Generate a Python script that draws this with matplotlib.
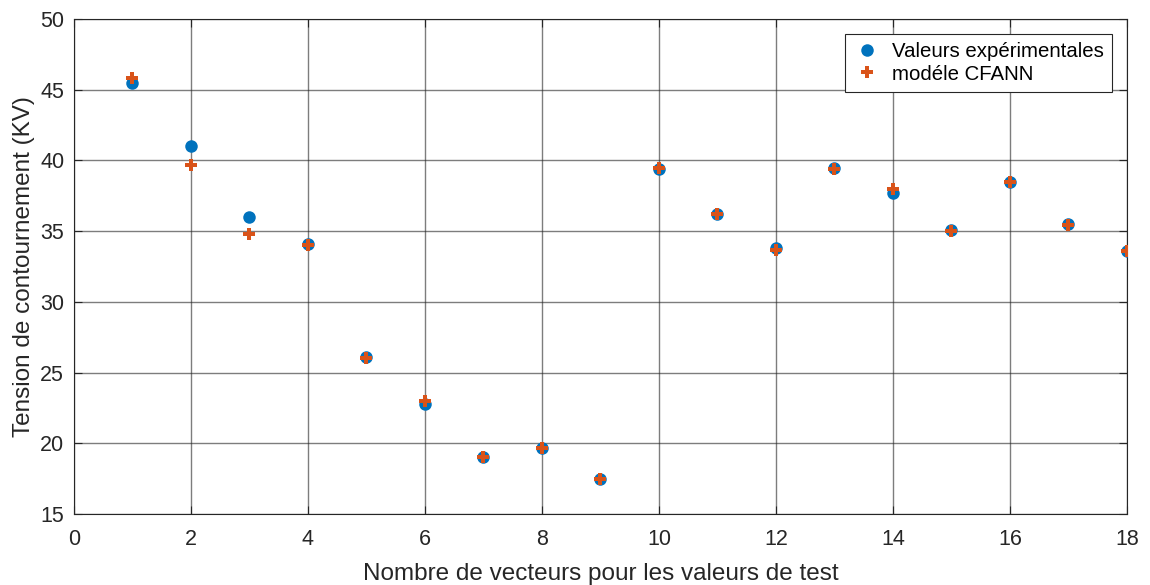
import matplotlib.pyplot as plt
import numpy as np

plt.rcParams['font.family'] = ['Liberation Sans', 'DejaVu Sans']

n = np.arange(1, 19)
experimentales = [45.5, 41.0, 36.0, 34.1, 26.1, 22.8, 19.0, 19.7, 17.5,
                  39.4, 36.2, 33.8, 39.5, 37.7, 35.1, 38.5, 35.5, 33.6]
cfann = [45.8, 39.7, 34.8, 34.0, 26.0, 23.0, 19.0, 19.7, 17.5,
         39.5, 36.2, 33.7, 39.4, 38.0, 35.0, 38.5, 35.4, 33.6]

fig = plt.figure(figsize=(11.5, 5.85), dpi=100)
ax = fig.add_axes([0.0643, 0.1214, 0.9157, 0.8461])

ax.plot(n, experimentales, 'o', color=(0, 0.447, 0.741), markersize=9,
        markeredgewidth=0, label='Valeurs expérimentales', zorder=3)
ax.plot(n, cfann, 'P', color=(0.85, 0.325, 0.098), markersize=9,
        markeredgewidth=0, label='modéle CFANN', zorder=4)

ax.set_xlim(0, 18)
ax.set_ylim(15, 50)
ax.set_xticks(np.arange(0, 19, 2))
ax.set_yticks(np.arange(15, 51, 5))
ax.grid(True, color='#262626', linewidth=1.0, alpha=0.6)
ax.set_axisbelow(True)
ax.tick_params(direction='in', labelsize=15.5, length=6, top=True, right=True,
               color='#262626', labelcolor='#262626')
ax.tick_params(axis='x', pad=11)
ax.tick_params(axis='y', pad=7)
for s in ax.spines.values():
    s.set_color('#262626')

ax.set_xlabel('Nombre de vecteurs pour les valeurs de test', fontsize=17.5,
              color='#262626', labelpad=9)
ax.set_ylabel('Tension de contournement (KV)', fontsize=17.5, color='#262626',
              labelpad=4)

leg = ax.legend(loc='upper right', fontsize=14.7, fancybox=False,
                edgecolor='#262626', framealpha=1, borderaxespad=0.75,
                handlelength=1.4, handletextpad=0.5, labelspacing=0.15,
                borderpad=0.4)
leg.get_frame().set_linewidth(0.8)

fig.savefig('out.png', dpi=100)
